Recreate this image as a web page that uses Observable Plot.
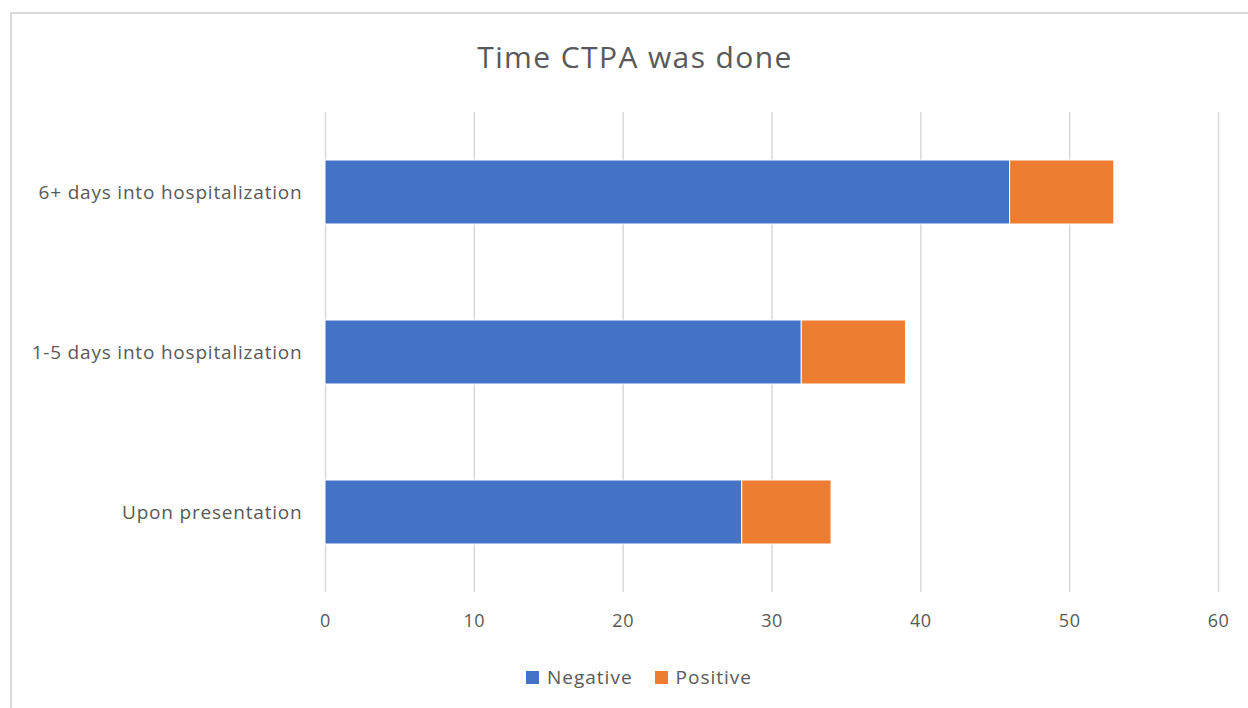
<!DOCTYPE html>
<html>
<head>
<meta charset="utf-8">
<script src="https://cdn.jsdelivr.net/npm/d3@7"></script>
<script src="https://cdn.jsdelivr.net/npm/@observablehq/plot@0.6"></script>
<style>
  body { margin: 0; background: #fff; }
  #wrap { position: relative; width: 1248px; height: 708px; overflow: hidden; font-family: "Open Sans", "Noto Sans", sans-serif; color: #595959; }
  #frame { position: absolute; left: 10px; top: 12px; width: 1300px; height: 800px; border-left: 2px solid #d9d9d9; border-top: 2px solid #d9d9d9; box-sizing: border-box; }
  #title { position: absolute; left: 0; width: 1270px; top: 36px; text-align: center; font-size: 30px; letter-spacing: 1.4px; color: #595959; }
  #chart { position: absolute; left: 0; top: 100px; }
  #chart svg g[aria-label="y-axis tick label"] text { letter-spacing: 0.8px; }
  #chart svg g[aria-label="x-axis tick label"] text { letter-spacing: 0.5px; }
  #legend { position: absolute; top: 664px; left: 0; width: 1248px; display: flex; justify-content: center; gap: 22px; font-size: 19px; letter-spacing: 1px; color: #595959; padding-left: 30px; box-sizing: border-box; }
  .item { display: flex; align-items: center; gap: 8px; }
  .sw { width: 13px; height: 13px; display: inline-block; }
</style>
</head>
<body>
<div id="wrap">
  <div id="frame"></div>
  <div id="title">Time CTPA was done</div>
  <div id="chart"></div>
  <div id="legend"></div>
</div>
<script>
const categories = ["6+ days into hospitalization", "1-5 days into hospitalization", "Upon presentation"];
const negative = [46, 32, 28];
const positive = [7, 7, 6];
const seriesNames = ["Negative", "Positive"];
const seriesColors = ["#4472C4", "#ED7D31"];
const xTicks = [0, 10, 20, 30, 40, 50, 60];

const data = [];
categories.forEach((c, i) => {
  data.push({category: c, series: "Negative", value: negative[i]});
  data.push({category: c, series: "Positive", value: positive[i]});
});

const chart = Plot.plot({
  width: 1248,
  height: 540,
  marginTop: 12,
  marginBottom: 48,
  marginLeft: 325,
  marginRight: 30,
  style: { fontFamily: "'Open Sans', 'Noto Sans', sans-serif", color: "#595959", background: "transparent" },
  x: { domain: [0, 60], ticks: xTicks, label: null },
  y: { domain: categories, paddingInner: 0.6, paddingOuter: 0.3, label: null },
  color: { domain: seriesNames, range: seriesColors },
  marks: [
    Plot.ruleX(xTicks, { stroke: "#d9d9d9", strokeWidth: 1.5 }),
    Plot.barX(data, Plot.stackX({ y: "category", x: "value", fill: "series", order: seriesNames, stroke: "#fff", strokeWidth: 1 })),
    Plot.axisX({ ticks: xTicks, tickSize: 0, tickPadding: 22, fontSize: 18, fill: "#595959" }),
    Plot.axisY({ tickSize: 0, tickPadding: 23, fontSize: 19, fill: "#595959" })
  ]
});
document.getElementById("chart").appendChild(chart);

const legend = document.getElementById("legend");
seriesNames.forEach((s, i) => {
  const it = document.createElement("div");
  it.className = "item";
  const sw = document.createElement("span");
  sw.className = "sw";
  sw.style.background = seriesColors[i];
  const t = document.createElement("span");
  t.textContent = s;
  it.appendChild(sw); it.appendChild(t);
  legend.appendChild(it);
});
</script>
</body>
</html>
